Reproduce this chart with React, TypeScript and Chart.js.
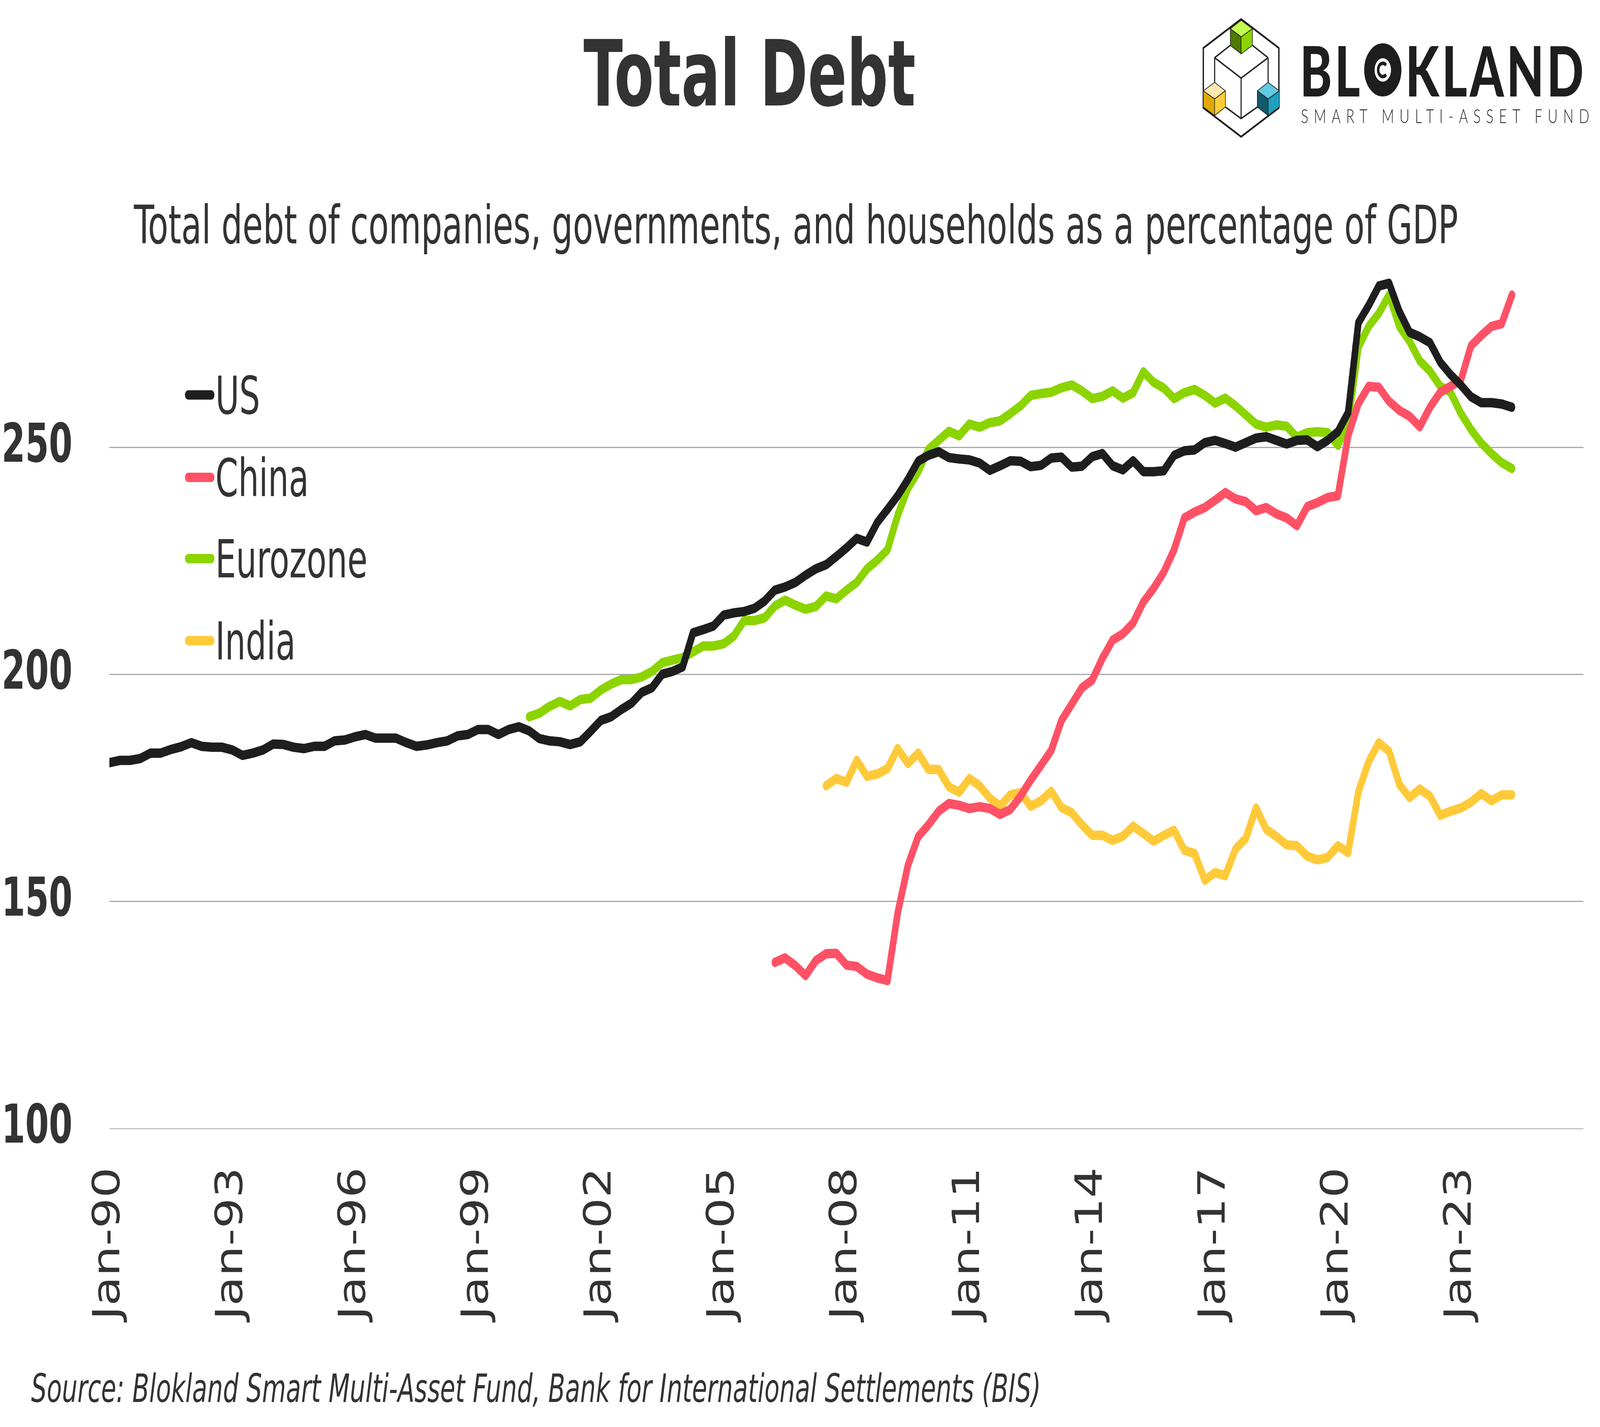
import { useEffect, useRef } from "react";
import { Chart, registerables } from "chart.js";

Chart.register(...registerables);

const W = 5849;
const H = 3653;
const FONT = "'DejaVu Sans Condensed', 'DejaVu Sans', sans-serif";
const TEXT = "#333333";

// quarterly category axis, Jan-90 .. Jan-26
const MONTHS = ["Jan", "Apr", "Jul", "Oct"];
const QUARTERS: string[] = [];
for (let y = 1990; y <= 2026; y++) {
  for (const m of MONTHS) QUARTERS.push(`${m}-${String(y % 100).padStart(2, "0")}`);
}
QUARTERS.length = 145;

const TICK_LABELS = [
  "Jan-90", "Jan-93", "Jan-96", "Jan-99", "Jan-02", "Jan-05",
  "Jan-08", "Jan-11", "Jan-14", "Jan-17", "Jan-20", "Jan-23",
];
const Y_TICKS = [100, 150, 200, 250];

const US_START = "Jan-90";
const US_VALUES = [
  180.6, 181.1, 181.1, 181.5, 182.7, 182.7, 183.5, 184.1, 185.0, 184.2,
  184.0, 184.0, 183.4, 182.2, 182.7, 183.4, 184.7, 184.6, 184.0, 183.7,
  184.2, 184.2, 185.4, 185.6, 186.3, 186.8, 186.0, 186.0, 186.0, 185.0,
  184.2, 184.5, 185.0, 185.4, 186.5, 186.8, 187.9, 187.9, 186.8, 187.9,
  188.5, 187.6, 185.9, 185.4, 185.2, 184.6, 185.2, 187.5, 189.9, 190.7,
  192.3, 193.7, 196.1, 197.1, 200.1, 200.7, 201.7, 209.2, 209.9, 210.7,
  213.1, 213.6, 213.9, 214.6, 216.2, 218.6, 219.3, 220.3, 221.9, 223.3,
  224.2, 226.0, 227.9, 230.0, 229.2, 233.5, 236.4, 239.4, 243.0, 247.0,
  248.3, 249.1, 247.8, 247.5, 247.3, 246.6, 245.0, 246.0, 247.1, 247.0,
  245.8, 246.1, 247.7, 247.9, 245.7, 245.9, 248.0, 248.7, 246.0, 245.1,
  247.1, 244.7, 244.7, 244.9, 248.3, 249.3, 249.5, 251.1, 251.6, 250.9,
  250.1, 251.1, 252.1, 252.4, 251.6, 250.8, 251.6, 251.7, 250.2, 251.6,
  253.5, 257.7, 277.5, 281.3, 285.6, 286.2, 280.0, 275.4, 274.4, 273.1,
  268.8, 266.1, 263.8, 261.2, 259.9, 259.9, 259.6, 258.9,
];

const CHINA_START = "Apr-06";
const CHINA_VALUES = [
  136.6, 137.6, 135.9, 133.7, 137.0,
  138.5, 138.6, 136.0, 135.7, 134.0, 133.2, 132.6, 147.5, 158.0, 164.3,
  166.9, 169.9, 171.6, 171.2, 170.5, 170.9, 170.5, 169.2, 170.3, 173.2,
  176.8, 180.0, 183.3, 189.9, 193.5, 197.1, 198.8, 203.6, 207.6, 209.0,
  211.4, 216.0, 219.0, 222.6, 227.5, 234.5, 235.8, 236.8, 238.4, 240.1,
  238.7, 238.1, 236.1, 236.8, 235.4, 234.5, 232.8, 237.0, 237.9, 239.0,
  239.4, 252.6, 259.7, 263.5, 263.3, 260.2, 258.2, 256.9, 254.6, 258.9,
  262.2, 263.5, 264.8, 272.4, 274.7, 276.7, 277.3, 283.6,
];

const EUROZONE_START = "Apr-00";
const EUROZONE_VALUES = [
  190.7, 191.5, 193.0, 194.1, 193.1, 194.5, 194.8, 196.6, 197.9,
  198.9, 198.9, 199.5, 200.7, 202.6, 203.2, 203.7, 205.0, 206.3, 206.3,
  206.8, 208.5, 211.9, 211.9, 212.5, 215.1, 216.4, 215.3, 214.4, 215.0,
  217.3, 216.7, 218.6, 220.3, 223.3, 225.2, 227.5, 235.1, 241.0, 244.7,
  249.6, 251.6, 253.6, 252.6, 255.2, 254.5, 255.5, 255.9, 257.5, 259.2,
  261.5, 261.9, 262.2, 263.2, 263.8, 262.5, 260.8, 261.3, 262.5, 260.9,
  262.1, 266.7, 264.4, 263.1, 260.8, 262.1, 262.8, 261.5, 259.8, 260.9,
  259.2, 257.2, 255.2, 254.5, 255.0, 254.7, 252.3, 253.3, 253.5, 253.3,
  250.5, 255.2, 272.1, 276.7, 279.6, 283.6, 276.7, 273.4, 269.1, 266.8,
  263.5, 262.2, 257.6, 254.0, 251.0, 248.7, 246.7, 245.4,
];

const INDIA_START = "Jul-07";
const INDIA_VALUES = [
  175.5, 177.1, 176.3, 181.1, 177.6, 178.1, 179.3, 183.7, 180.4, 182.7,
  179.1, 179.1, 175.3, 174.1, 177.1, 175.5, 172.8, 171.0, 173.5, 174.0,
  171.0, 172.2, 174.3, 170.7, 169.6, 166.9, 164.6, 164.6, 163.5, 164.4,
  166.6, 165.0, 163.3, 164.6, 165.7, 161.3, 160.6, 154.7, 156.4, 155.7,
  161.6, 163.9, 170.6, 165.9, 164.3, 162.5, 162.3, 160.0, 159.2, 159.7,
  162.3, 160.8, 174.2, 180.8, 185.0, 183.1, 175.8, 172.9, 174.8, 173.2,
  169.0, 169.9, 170.6, 171.9, 173.8, 172.2, 173.5, 173.5,
];

const SERIES = [
  { name: "US", color: "#1e1e1e", start: US_START, values: US_VALUES },
  { name: "China", color: "#ff5166", start: CHINA_START, values: CHINA_VALUES },
  { name: "Eurozone", color: "#8bd400", start: EUROZONE_START, values: EUROZONE_VALUES },
  { name: "India", color: "#ffca3a", start: INDIA_START, values: INDIA_VALUES },
];

function padded(start: string, values: number[]) {
  const lead = QUARTERS.indexOf(start);
  return [...Array(lead).fill(null), ...values];
}

function Logo() {
  const stroke = "#1e1e1e";
  return (
    <div style={{ position: "absolute", left: 4389, top: 39, width: 1470, height: 330 }}>
      <svg
        width={296}
        height={321}
        viewBox="90 40 300 325"
        style={{ position: "absolute", left: 0, top: 0 }}
      >
        <polygon
          points="240,50 380,125 380,280 240,355 100,280 100,125"
          fill="#fff"
          stroke={stroke}
          strokeWidth={5}
          strokeLinejoin="round"
        />
        <g fill="none" stroke={stroke} strokeWidth={4}>
          <polyline points="142,150 240,203 340,150" />
          <line x1={240} y1={203} x2={240} y2={308} />
          <line x1={142} y1={150} x2={142} y2={214} />
          <line x1={340} y1={150} x2={340} y2={214} />
          <line x1={142} y1={150} x2={200} y2={118} />
          <line x1={282} y1={118} x2={340} y2={150} />
          <polyline points="182,278 240,308 300,278" />
        </g>
        <g stroke={stroke} strokeWidth={2} strokeLinejoin="round">
          <polygon points="200,75 240,53 282,75 240,96" fill="#c0ff4a" />
          <polygon points="200,75 240,96 240,140 200,118" fill="#4f7a00" />
          <polygon points="240,96 282,75 282,118 240,140" fill="#8bd400" />
          <polygon points="100,236 142,214 182,236 142,257" fill="#ffe9b0" />
          <polygon points="100,236 142,257 142,300 100,278" fill="#e0a800" />
          <polygon points="142,257 182,236 182,278 142,300" fill="#ffcc3a" />
          <polygon points="300,236 340,214 382,236 340,257" fill="#62c9e0" />
          <polygon points="300,236 340,257 340,300 300,278" fill="#12596a" />
          <polygon points="340,257 382,236 382,278 340,300" fill="#1f9fbf" />
        </g>
      </svg>
      <div
        style={{
          position: "absolute",
          left: 363,
          top: 51,
          height: 177,
          display: "flex",
          alignItems: "center",
          fontFamily: "Lato, 'DejaVu Sans', sans-serif",
          fontWeight: 900,
          fontSize: 177,
          lineHeight: 1,
          color: stroke,
          letterSpacing: 10,
          whiteSpace: "nowrap",
        }}
      >
        <span>BL</span>
        <svg width={138} height={138} viewBox="0 0 138 138" style={{ margin: "0 14px 0 4px" }}>
          <circle cx={69} cy={69} r={49} fill="none" stroke={stroke} strokeWidth={38} />
          <path d="M81,57 A17,17 0 1 0 81,81" fill="none" stroke={stroke} strokeWidth={9} />
        </svg>
        <span>KLAND</span>
      </div>
      <div
        style={{
          position: "absolute",
          left: 367,
          top: 232,
          fontFamily: "Lato, 'DejaVu Sans', sans-serif",
          fontWeight: 300,
          fontSize: 50,
          lineHeight: 1,
          letterSpacing: 20,
          color: "#222",
          whiteSpace: "nowrap",
        }}
      >
        SMART MULTI-ASSET FUND
      </div>
    </div>
  );
}

const LEGEND_CENTERS = [1011, 1222, 1430, 1640];

export default function App() {
  const canvasRef = useRef<HTMLCanvasElement>(null);
  const chartRef = useRef<Chart | null>(null);

  // the browser viewport can be smaller than the picture size: stretch the layout to fill it
  const vw = window.innerWidth || W;
  const vh = window.innerHeight || H;
  const sx = Math.min(1, vw / W);
  const sy = Math.min(1, vh / H);

  useEffect(() => {
    document.body.style.margin = "0";
    document.body.style.overflow = "hidden";
    if (!canvasRef.current) return;
    const ctx = canvasRef.current.getContext("2d");
    if (!ctx) return;
    if (chartRef.current) chartRef.current.destroy();

    chartRef.current = new Chart(ctx, {
      type: "line",
      data: {
        labels: QUARTERS,
        datasets: SERIES.map((s) => ({
          label: s.name,
          data: padded(s.start, s.values),
          borderColor: s.color,
          backgroundColor: s.color,
          borderWidth: 24,
          borderCapStyle: "round" as const,
          borderJoinStyle: "round" as const,
          pointRadius: 0,
          tension: 0,
          clip: 0,
        })),
      },
      options: {
        animation: false,
        responsive: false,
        devicePixelRatio: 1,
        layout: { padding: { top: 681, right: 60, left: 0, bottom: 0 } },
        plugins: {
          legend: { display: false },
          tooltip: { enabled: false },
        },
        scales: {
          x: {
            type: "category",
            offset: false,
            grid: { display: false, drawTicks: false },
            border: { display: false },
            ticks: {
              autoSkip: false,
              maxRotation: 90,
              minRotation: 90,
              padding: 99,
              color: TEXT,
              font: { family: FONT, size: 137 },
              callback: (_v, i) =>
                TICK_LABELS.includes(QUARTERS[i]) ? QUARTERS[i] : null,
            },
            afterFit: (scale) => {
              scale.height = H - 2889;
            },
          },
          y: {
            min: 100,
            max: 290,
            afterBuildTicks: (scale) => {
              scale.ticks = Y_TICKS.map((v) => ({ value: v }));
            },
            grid: {
              drawTicks: false,
              lineWidth: 3,
              color: (c) => (c.tick && c.tick.value === 100 ? "#c4c4c4" : "#a8a8a8"),
            },
            border: { display: false },
            ticks: {
              padding: 135,
              color: TEXT,
              font: { family: FONT, size: 138, weight: "bold" },
            },
            afterFit: (scale) => {
              scale.width = 400;
            },
          },
        },
      },
    });

    return () => {
      if (chartRef.current) {
        chartRef.current.destroy();
        chartRef.current = null;
      }
    };
  }, []);

  return (
    <div style={{ width: W * sx, height: H * sy, overflow: "hidden", background: "#fff" }}>
      <div
        style={{
          position: "relative",
          width: W,
          height: H,
          background: "#fff",
          overflow: "hidden",
          transform: `scale(${sx}, ${sy})`,
          transformOrigin: "0 0",
        }}
      >
        <canvas
          ref={canvasRef}
          width={W}
          height={H}
          style={{ position: "absolute", left: 0, top: 0, width: W, height: H }}
        />
        <div
          style={{
            position: "absolute",
            left: 2740,
            top: 72,
            transform: "translateX(-50%)",
            fontFamily: FONT,
            fontWeight: "bold",
            fontSize: 234,
            lineHeight: 1,
            color: TEXT,
            whiteSpace: "nowrap",
          }}
        >
          Total Debt
        </div>
        <div
          style={{
            position: "absolute",
            left: 2910,
            top: 509,
            transform: "translateX(-50%)",
            fontFamily: FONT,
            fontSize: 135,
            lineHeight: 1,
            color: TEXT,
            whiteSpace: "nowrap",
          }}
        >
          Total debt of companies, governments, and households as a percentage of GDP
        </div>
        <Logo />
        {SERIES.map((s, i) => (
          <div key={s.name}>
            <div
              style={{
                position: "absolute",
                left: 676,
                top: LEGEND_CENTERS[i] - 12,
                width: 108,
                height: 24,
                borderRadius: 12,
                background: s.color,
              }}
            />
            <div
              style={{
                position: "absolute",
                left: 787,
                top: LEGEND_CENTERS[i] - 64,
                fontFamily: FONT,
                fontSize: 133,
                lineHeight: 1,
                color: TEXT,
                whiteSpace: "nowrap",
              }}
            >
              {s.name}
            </div>
          </div>
        ))}
        <div
          style={{
            position: "absolute",
            left: 114,
            top: 3505,
            fontFamily: FONT,
            fontStyle: "italic",
            fontSize: 100,
            lineHeight: 1,
            color: TEXT,
            whiteSpace: "nowrap",
          }}
        >
          Source: Blokland Smart Multi-Asset Fund, Bank for International Settlements (BIS)
        </div>
      </div>
    </div>
  );
}
